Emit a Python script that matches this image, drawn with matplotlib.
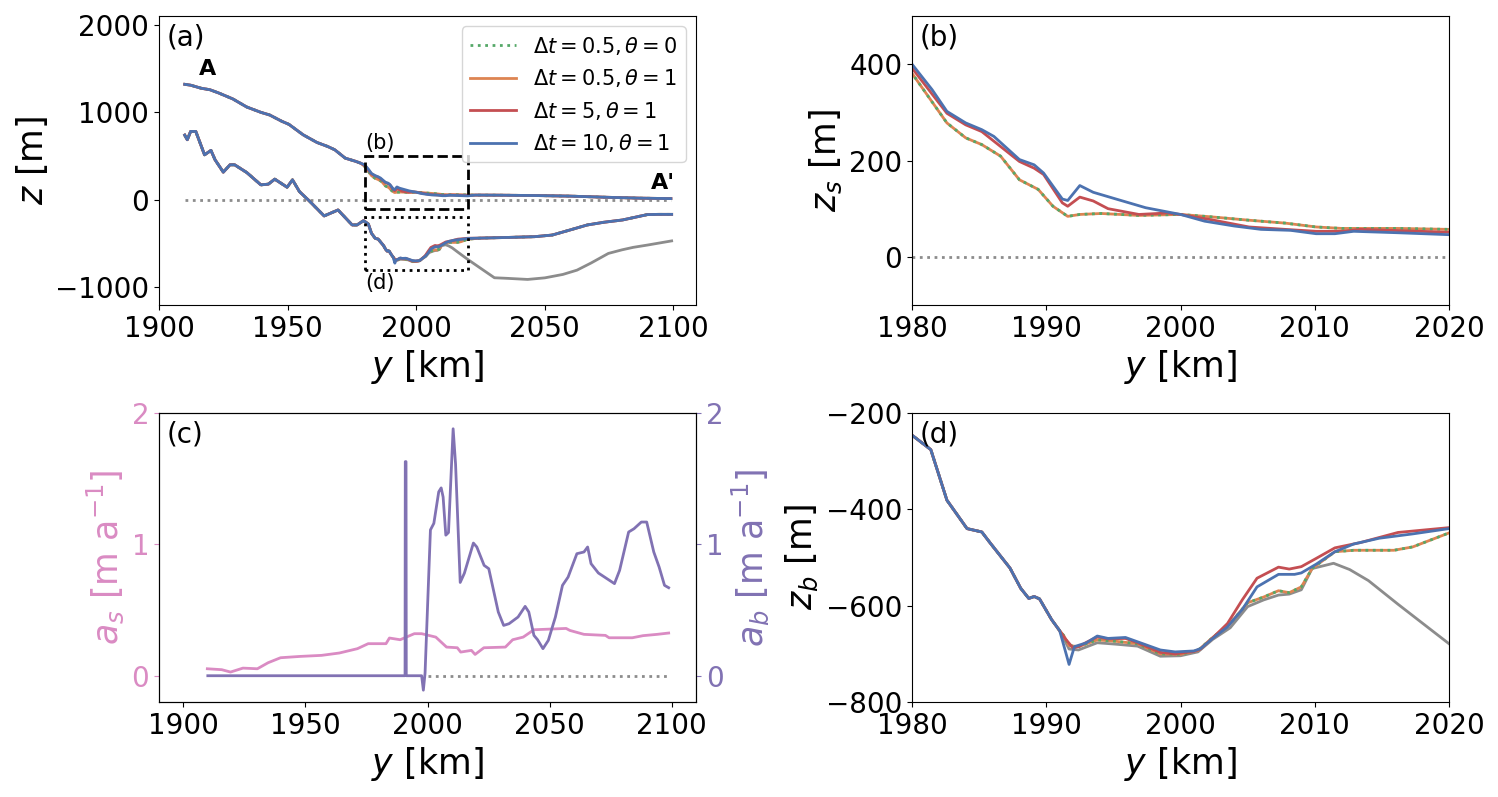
import matplotlib
matplotlib.use('Agg')
import matplotlib.pyplot as plt
import numpy as np
from matplotlib.patches import Rectangle
from matplotlib.lines import Line2D

# ---------------- colours ----------------
C_GREEN = '#55a868'; C_ORANGE = '#dd8452'; C_RED = '#c44e52'; C_BLUE = '#4c72b0'
C_GRAY = '#8c8c8c'; C_PINK = '#da8bc3'; C_PURPLE = '#8172b3'

# ---------------- data: surface elevation ----------------
y_s_up = [1910, 1912.3, 1916.4, 1919.8, 1923.2, 1928.7, 1934.1, 1939.6, 1943, 1947.8,
          1950.5, 1956, 1961.4, 1965.5, 1968.3, 1972.4, 1976.5, 1978.5]
zs_up = [1320, 1310, 1275, 1258, 1221, 1153, 1061, 1000, 970, 897,
         863, 744, 656, 611, 573, 477, 440, 418]

y_s_dt10 = [1980, 1981.5, 1982.6, 1984, 1985.2, 1986.1, 1988, 1989.1, 1989.8, 1990.6, 1991.2,
            1991.6, 1992.5, 1993.5, 1995.2, 1997.4, 2000, 2001.8, 2004, 2006, 2008.2, 2010.1,
            2011.5, 2012.9, 2016.2, 2020]
zs_dt10 = [400, 347, 302, 278, 264, 250, 202, 191, 174, 143, 120,
           117, 148, 134, 120, 102, 88, 74, 64, 57, 55, 48,
           48, 53, 50, 46]

y_s_dt5 = [1980, 1982.6, 1984, 1985.2, 1988, 1989.1, 1989.8, 1991.2, 1991.6, 1992.5, 1993.5,
           1994.6, 1996.9, 1999, 2000, 2002.3, 2005.1, 2007.8, 2010.1, 2012, 2013.4, 2020]
zs_dt5 = [392, 298, 274, 260, 198, 184, 171, 112, 105, 124, 116,
          100, 88, 91, 88, 77, 62, 57, 53, 53, 57, 51]

y_s_dt05 = [1980, 1982.6, 1984, 1985.2, 1986.6, 1988, 1989.4, 1990.5, 1991.6, 1992.5, 1994.1,
            1996.9, 2000, 2002.3, 2005.1, 2007.8, 2010.1, 2012, 2016.2, 2020]
zs_dt05 = [381, 278, 247, 233, 209, 160, 140, 105, 84, 88, 90,
           86, 88, 83, 76, 70, 62, 59, 59, 57]

y_s_down = [2023, 2032, 2046, 2060, 2073, 2087, 2099]
zs_down = [55, 54, 50, 43, 31, 20, 15]

# ---------------- data: bed elevation ----------------
y_b_up = [1910, 1911, 1912.3, 1914.3, 1917.7, 1920.2, 1921.8, 1925, 1927.6, 1929.4, 1934.1,
          1939.6, 1942.5, 1945, 1949.8, 1951.9, 1954.6, 1958.7, 1964.2, 1969.6, 1975.1,
          1977, 1979.5, 1980, 1981.4, 1982.6, 1984.1, 1985.2, 1985.8, 1987.3, 1988.1,
          1988.7, 1989.1, 1989.5, 1990.4, 1991]
zb_up = [740, 687, 782, 782, 515, 565, 458, 317, 401, 401, 313,
         172, 180, 237, 145, 229, 95, -19, -183, -115, -286,
         -286, -237, -246, -276, -381, -440, -447, -469, -522, -564,
         -585, -581, -586, -629, -652]

y_b_dt10 = [1991.7, 1992.1, 1993, 1993.8, 1994.6, 1995.9, 1996.8, 1998.5, 1999.6, 2001, 2001.5,
            2002.4, 2003.5, 2004.6, 2005.7, 2007.3, 2008.5, 2009, 2010.1, 2011.5, 2012.9,
            2014.8, 2017.3, 2020]
zb_dt10 = [-722, -685, -677, -663, -668, -666, -675, -692, -696, -694, -689,
           -668, -644, -608, -561, -535, -535, -532, -514, -488, -472,
           -460, -451, -440]

y_b_dt5 = [1991.4, 1992, 1992.5, 1993, 1993.8, 1994.6, 1995.9, 1996.8, 1998.5, 1999.6, 2001,
           2001.5, 2002.4, 2003.5, 2004.6, 2005.7, 2007.3, 2008.1, 2009, 2010.1, 2011.5,
           2013.4, 2016.2, 2020]
zb_dt5 = [-668, -688, -684, -676, -665, -669, -668, -677, -697, -700, -695,
          -690, -667, -637, -588, -543, -520, -524, -519, -502, -480,
          -469, -448, -438]

y_b_dt05 = [1991.3, 1991.7, 1992.4, 1993.8, 1995.2, 1996.8, 1998.5, 2000, 2001.3, 2002.4,
            2003.7, 2005, 2006.2, 2007.3, 2008.1, 2009, 2009.8, 2011.5, 2012.9, 2015.9,
            2017.3, 2020]
zb_dt05 = [-662, -683, -685, -671, -674, -679, -700, -701, -693, -666,
           -637, -594, -582, -569, -573, -561, -523, -488, -485, -485,
           -478, -449]

y_b_orig = [1991.7, 1992.4, 1993.8, 1995.2, 1996.8, 1998.5, 2000, 2001.3, 2002.4, 2003.7,
            2005, 2006.2, 2007.3, 2008.1, 2009, 2009.8, 2011.4, 2012.6, 2014, 2016.2,
            2018.7, 2020]
zb_orig = [-690, -692, -677, -680, -684, -705, -704, -696, -670, -646,
           -602, -588, -578, -576, -567, -523, -512, -525, -548, -597,
           -651, -679]

y_b_down = [2025, 2032.4, 2046, 2052.9, 2059.7, 2066.5, 2073, 2080.2, 2089.8, 2094, 2099.3]
zb_down = [-436, -431, -420, -401, -344, -286, -255, -229, -168, -165, -165]

y_b_orig_down = [2025, 2030.4, 2035, 2043.3, 2050, 2057, 2062.5, 2068, 2074.7, 2080, 2084.3,
                 2090, 2099.3]
zb_orig_down = [-780, -889, -895, -908, -890, -851, -802, -720, -611, -570, -542,
                -515, -468]

# ---------------- data: accumulation / melt ----------------
y_as = [1909.8, 1915.7, 1919.3, 1924.4, 1930.3, 1934.7, 1939.8, 1947.8, 1956.6, 1963.9,
        1971.3, 1975.7, 1983, 1984.4, 1988.8, 1994.6, 1997.6, 2003.4, 2007.8, 2012.2,
        2013.6, 2018, 2019.5, 2023.1, 2031.9, 2034.9, 2039.2, 2043.6, 2050.2, 2056.8,
        2058.3, 2064.1, 2072.9, 2074.4, 2083.9, 2088.3, 2094.1, 2098.8]
a_s = [0.053, 0.046, 0.028, 0.058, 0.053, 0.099, 0.137, 0.147, 0.155, 0.173,
       0.206, 0.244, 0.244, 0.287, 0.274, 0.320, 0.320, 0.294, 0.218, 0.213,
       0.180, 0.193, 0.162, 0.213, 0.218, 0.274, 0.294, 0.350, 0.355, 0.360,
       0.345, 0.315, 0.307, 0.289, 0.289, 0.305, 0.315, 0.325]

y_ab = [1910, 1990.8, 1990.9, 1991.2, 1991.3, 1997.6, 1998.3, 1999.0, 2001.2, 2002.6,
        2004.6, 2005.6, 2006.4, 2007.5, 2008.6, 2010.5, 2011.5, 2013.4, 2015.1, 2018.8,
        2020.2, 2023.2, 2025.1, 2029.0, 2031.2, 2033.4, 2037.1, 2040.0, 2041.5, 2043.6,
        2045.1, 2047.3, 2049.5, 2052.4, 2055.3, 2057.6, 2061.2, 2064.1, 2065.6, 2067.0,
        2070.0, 2076.6, 2078.7, 2082.4, 2084.6, 2087.6, 2089.8, 2092.7, 2094.9, 2097.1,
        2098.8]
a_b = [0, 0, 1.63, 1.63, 0, 0, -0.11, 0.02, 1.11, 1.16,
       1.40, 1.43, 1.36, 1.07, 1.09, 1.88, 1.61, 0.71, 0.78, 1.01,
       0.98, 0.84, 0.815, 0.485, 0.383, 0.396, 0.447, 0.528, 0.485, 0.307,
       0.274, 0.206, 0.269, 0.447, 0.688, 0.751, 0.929, 0.942, 0.98, 0.853,
       0.782, 0.701, 0.802, 1.094, 1.119, 1.17, 1.17, 0.942, 0.827, 0.688,
       0.67]

# reference levels
y_sl_a = [1910, 2099]
y_sl_c = [2000, 2099]

# zoom windows
win_x = (1980, 2020)
win_b = (-100, 500)
win_d = (-800, -200)

labels = [r'$\Delta t=0.5, \theta=0$', r'$\Delta t=0.5, \theta=1$',
          r'$\Delta t=5, \theta=1$', r'$\Delta t=10, \theta=1$']


def full(*parts):
    xs, zs = [], []
    for x, z in parts:
        xs += list(x); zs += list(z)
    return np.array(xs), np.array(zs)


ys10, s10 = full((y_s_up, zs_up), (y_s_dt10, zs_dt10), (y_s_down, zs_down))
ys5, s5 = full((y_s_up, zs_up), (y_s_dt5, zs_dt5), (y_s_down, zs_down))
ys05, s05 = full((y_s_up, zs_up), (y_s_dt05, zs_dt05), (y_s_down, zs_down))
yb10, b10 = full((y_b_up, zb_up), (y_b_dt10, zb_dt10), (y_b_down, zb_down))
yb5, b5 = full((y_b_up, zb_up), (y_b_dt5, zb_dt5), (y_b_down, zb_down))
yb05, b05 = full((y_b_up, zb_up), (y_b_dt05, zb_dt05), (y_b_down, zb_down))
ybo, bo = full((y_b_up, zb_up), (y_b_orig, zb_orig), (y_b_orig_down, zb_orig_down))

TICK = 20
LAB = 25
LW = 2.0

plt.rcParams['font.family'] = ['DejaVu Sans']
plt.rcParams['xtick.labelsize'] = TICK
plt.rcParams['ytick.labelsize'] = TICK

fig = plt.figure(figsize=(14.98, 7.97), dpi=100)
W, H = 1498, 797


def add_ax(l, t, r, b):
    return fig.add_axes([l / W, 1 - b / H, (r - l) / W, (b - t) / H])


ax_a = add_ax(159, 16, 696, 305)
ax_b = add_ax(912, 16, 1449, 305)
ax_c = add_ax(159, 413, 696, 702)
ax_d = add_ax(912, 413, 1449, 702)


def draw_profiles(ax, surface=True, bed=True):
    if bed:
        ax.plot(ybo, bo, color=C_GRAY, lw=LW)
    if surface:
        ax.plot(ys05, s05, color=C_ORANGE, lw=LW)
        ax.plot(ys05, s05, color=C_GREEN, lw=LW, ls=':')
        ax.plot(ys5, s5, color=C_RED, lw=LW)
        ax.plot(ys10, s10, color=C_BLUE, lw=LW)
    if bed:
        ax.plot(yb05, b05, color=C_ORANGE, lw=LW)
        ax.plot(yb05, b05, color=C_GREEN, lw=LW, ls=':')
        ax.plot(yb5, b5, color=C_RED, lw=LW)
        ax.plot(yb10, b10, color=C_BLUE, lw=LW)


# ---------------- (a) ----------------
ax_a.hlines(0, y_sl_a[0], y_sl_a[1], color=C_GRAY, lw=LW, ls=':')
draw_profiles(ax_a)
ax_a.set_ylim(-1200, 2100)
ax_a.set_xticks([1900, 1950, 2000, 2050, 2100])
ax_a.set_yticks([-1000, 0, 1000, 2000])
ax_a.set_xlabel(r'$y$ [km]', fontsize=LAB)
ax_a.set_ylabel(r'$z$ [m]', fontsize=LAB)
ax_a.add_patch(Rectangle((win_x[0], win_b[0]), win_x[1] - win_x[0], win_b[1] - win_b[0],
                         fill=False, ec='k', lw=LW, ls='--', zorder=5))
ax_a.add_patch(Rectangle((win_x[0], win_d[0]), win_x[1] - win_x[0], win_d[1] - win_d[0],
                         fill=False, ec='k', lw=LW, ls=':', zorder=5))
ax_a.text(win_x[0], win_b[1] + 40, '(b)', fontsize=15, ha='left', va='bottom')
ax_a.text(win_x[0], win_d[0] - 40, '(d)', fontsize=15, ha='left', va='top')
ax_a.text(1919, 1490, 'A', fontsize=16, fontweight='bold', ha='center', va='center')
ax_a.text(2096, 190, "A'", fontsize=16, fontweight='bold', ha='center', va='center')
ax_a.text(0.015, 0.975, '(a)', transform=ax_a.transAxes, fontsize=20, va='top', ha='left')
handles = [Line2D([], [], color=C_GREEN, lw=LW, ls=':'),
           Line2D([], [], color=C_ORANGE, lw=LW),
           Line2D([], [], color=C_RED, lw=LW),
           Line2D([], [], color=C_BLUE, lw=LW)]
ax_a.legend(handles, labels, loc='upper right', fontsize=15, handlelength=2.2)

# ---------------- (b) ----------------
ax_b.hlines(0, win_x[0], win_x[1], color=C_GRAY, lw=LW, ls=':')
draw_profiles(ax_b, bed=False)
ax_b.set_xlim(*win_x)
ax_b.set_ylim(*win_b)
ax_b.set_xticks([1980, 1990, 2000, 2010, 2020])
ax_b.set_yticks([0, 200, 400])
ax_b.set_xlabel(r'$y$ [km]', fontsize=LAB)
ax_b.set_ylabel(r'$z_s$ [m]', fontsize=LAB)
ax_b.text(0.015, 0.975, '(b)', transform=ax_b.transAxes, fontsize=20, va='top', ha='left')

# ---------------- (c) ----------------
ax_c.plot(y_as, a_s, color=C_PINK, lw=LW)
ax_c2 = ax_c.twinx()
ax_c2.hlines(0, y_sl_c[0], y_sl_c[1], color=C_GRAY, lw=LW, ls=':')
ax_c2.plot(y_ab, a_b, color=C_PURPLE, lw=LW)
for ax in (ax_c, ax_c2):
    ax.set_ylim(-0.2, 2)
    ax.set_yticks([0, 1, 2])
ax_c.set_xlim(1890, 2110)
ax_c.set_xticks([1900, 1950, 2000, 2050, 2100])
ax_c.set_xlabel(r'$y$ [km]', fontsize=LAB)
ax_c.set_ylabel(r'$a_s$ [m a$^{-1}$]', fontsize=LAB, color=C_PINK)
ax_c2.set_ylabel(r'$a_b$ [m a$^{-1}$]', fontsize=LAB, color=C_PURPLE)
ax_c.tick_params(axis='y', colors=C_PINK)
ax_c2.tick_params(axis='y', colors=C_PURPLE)
ax_c.text(0.015, 0.975, '(c)', transform=ax_c.transAxes, fontsize=20, va='top', ha='left')

# ---------------- (d) ----------------
draw_profiles(ax_d, surface=False)
ax_d.set_xlim(*win_x)
ax_d.set_ylim(*win_d)
ax_d.set_xticks([1980, 1990, 2000, 2010, 2020])
ax_d.set_yticks([-800, -600, -400, -200])
ax_d.set_xlabel(r'$y$ [km]', fontsize=LAB)
ax_d.set_ylabel(r'$z_b$ [m]', fontsize=LAB)
ax_d.text(0.015, 0.975, '(d)', transform=ax_d.transAxes, fontsize=20, va='top', ha='left')

fig.savefig('out.png', dpi=100)
